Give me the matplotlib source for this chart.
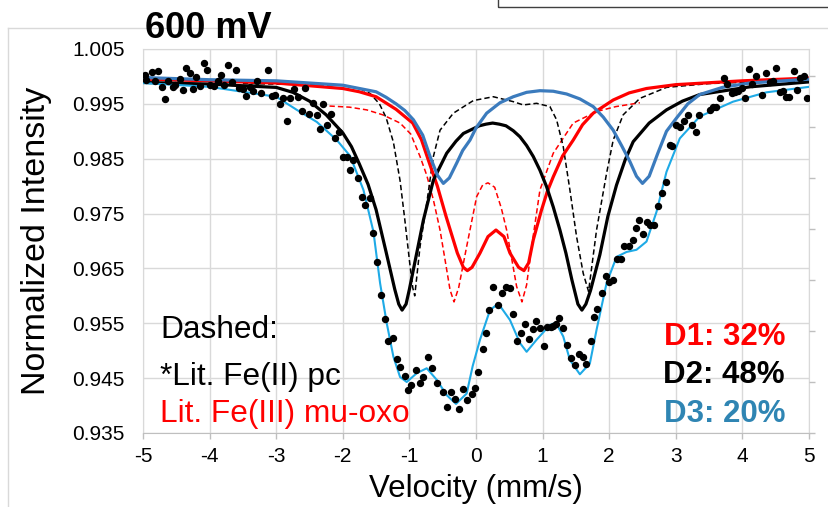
import matplotlib
matplotlib.use('Agg')
import matplotlib.pyplot as plt
from matplotlib.lines import Line2D
from matplotlib.patches import Rectangle

plt.rcParams['font.family'] = ['Liberation Sans', 'DejaVu Sans']

# measured spectrum (velocity mm/s, normalized intensity)
dots_x = [-4.97, -4.95, -4.87, -4.82, -4.77, -4.72, -4.67, -4.62, -4.55, -4.52, -4.45, -4.40, -4.35, -4.30,
          -4.25, -4.20, -4.15, -4.09, -4.04, -3.99, -3.94, -3.88, -3.83, -3.78, -3.72, -3.67, -3.61, -3.56,
          -3.50, -3.45, -3.39, -3.35, -3.29, -3.23, -3.12, -3.07, -3.02, -2.95, -2.90, -2.84, -2.80, -2.73,
          -2.68, -2.62, -2.57, -2.50, -2.44, -2.39, -2.34, -2.29, -2.23, -2.17, -2.12, -2.05,
          -1.99, -1.94, -1.89, -1.84, -1.77, -1.71, -1.66, -1.59, -1.55, -1.48, -1.42, -1.37, -1.32, -1.25,
          -1.19, -1.14, -1.07, -1.02, -0.97, -0.90, -0.84, -0.79, -0.725, -0.665, -0.58, -0.50, -0.43, -0.38,
          -0.32, -0.255, -0.20, -0.14, -0.065, -0.015, 0.035,
          0.10, 0.15, 0.20, 0.26, 0.325, 0.385, 0.45, 0.51, 0.55, 0.61, 0.67, 0.74, 0.80, 0.85, 0.90, 0.96,
          1.02, 1.07, 1.12, 1.16, 1.20, 1.25, 1.31, 1.36, 1.42, 1.49, 1.54, 1.60, 1.65, 1.72, 1.77, 1.82,
          1.89, 1.95, 2.00, 2.06, 2.11, 2.17, 2.22, 2.29, 2.35,
          2.40, 2.45, 2.51, 2.57, 2.62, 2.68, 2.74, 2.79, 2.85, 2.91, 2.95, 3.01, 3.06, 3.12, 3.18, 3.24,
          3.30, 3.35, 3.51, 3.56, 3.61, 3.67, 3.72, 3.77, 3.84, 3.89, 3.94, 3.99, 4.04, 4.10, 4.15, 4.20,
          4.30, 4.36, 4.41, 4.46, 4.51, 4.57, 4.61, 4.66, 4.70, 4.77, 4.82, 4.87, 4.92, 4.97]
dots_y = [1.0003, 0.9994, 1.0008, 0.9992, 1.0010, 0.9981, 0.9959, 0.9991, 0.9980, 0.9984, 0.9995, 0.9975, 1.0016, 1.0006,
          0.9977, 0.9999, 0.9983, 1.0024, 1.0012, 0.9984, 0.9983, 0.9992, 1.0003, 0.9984, 1.0021, 0.9989, 1.0012, 0.9978,
          0.9977, 0.9965, 0.9981, 0.9974, 0.9992, 0.9970, 1.0012, 0.9965, 0.9966, 0.9950, 0.9960, 0.9918, 0.9961, 0.9977,
          0.9963, 0.9937, 0.9978, 0.9931, 0.9951, 0.9930, 0.9905, 0.9949, 0.9912, 0.9931, 0.9887, 0.9898,
          0.9854, 0.9854, 0.9829, 0.9847, 0.9814, 0.9780, 0.9766, 0.9778, 0.9714, 0.9662, 0.9602, 0.9557, 0.9518, 0.9523,
          0.9484, 0.9471, 0.9453, 0.9428, 0.9438, 0.9464, 0.9442, 0.9452, 0.9488, 0.9468, 0.9442, 0.9425, 0.9397, 0.9424,
          0.9412, 0.9393, 0.9430, 0.9410, 0.9422, 0.9432, 0.9462,
          0.9503, 0.9533, 0.9574, 0.9617, 0.9583, 0.9605, 0.9616, 0.9614, 0.9567, 0.9517, 0.9533, 0.9549, 0.9521, 0.9540, 0.9555, 0.9542,
          0.9509, 0.9544, 0.9544, 0.9545, 0.9549, 0.9559, 0.9541, 0.9511, 0.9486, 0.9474, 0.9494, 0.9489, 0.9476, 0.9518, 0.9562, 0.9576,
          0.9605, 0.9637, 0.9625, 0.9628, 0.9667, 0.9667, 0.9691, 0.9691, 0.9702,
          0.9723, 0.9738, 0.9712, 0.9735, 0.9729, 0.9730, 0.9763, 0.9787, 0.9808, 0.9875, 0.9874, 0.9912, 0.9908, 0.9919, 0.9930, 0.9912,
          0.9899, 0.9930, 0.9939, 0.9945, 0.9945, 0.9960, 0.9998, 0.9987, 0.9969, 0.9971, 0.9974, 0.9978, 0.9960, 1.0014, 0.9986, 1.0001,
          0.9967, 1.0006, 0.9989, 0.9991, 1.0015, 0.9972, 0.9974, 0.9963, 0.9963, 1.0010, 0.9975, 0.9997, 1.0000, 0.9960]

# total fit
fit_x = [-5, -4, -3, -2.69, -2.39, -2.09, -1.89, -1.69, -1.54, -1.44, -1.34, -1.24, -1.14, -1.04, -0.89, -0.74,
         -0.59, -0.44, -0.30, -0.14, -0.05, 0.06, 0.21, 0.335, 0.51, 0.66, 0.76, 0.91, 1.11, 1.20, 1.31, 1.41,
         1.56, 1.71, 1.81, 1.96, 2.11, 2.26, 2.41, 2.56, 2.71, 2.86, 3.06, 3.36, 3.86, 4.36, 5]
fit_y = [0.9988, 0.9981, 0.9963, 0.9939, 0.9917, 0.9884, 0.9855, 0.9793, 0.9717, 0.9623, 0.9550, 0.9489, 0.9452, 0.9443, 0.9459, 0.9468,
         0.9447, 0.9419, 0.9403, 0.9422, 0.9472, 0.9520, 0.9574, 0.9586, 0.9556, 0.9514, 0.9498, 0.9520, 0.9547, 0.9551, 0.9526, 0.9483,
         0.9457, 0.9477, 0.9538, 0.9623, 0.9671, 0.9680, 0.9684, 0.9699, 0.9753, 0.9826, 0.9887, 0.9927, 0.9954, 0.9971, 0.9981]

# D1 doublet (red)
d1_x = [-5, -4, -3, -2, -1.75, -1.5, -1.2, -0.95, -0.82, -0.7, -0.58, -0.45, -0.28, -0.19, -0.13, -0.06, 0.06, 0.18,
        0.3, 0.42, 0.51, 0.64, 0.72, 0.79, 0.86, 0.98, 1.07, 1.16, 1.3, 1.46, 1.6, 1.76, 2.06, 2.3, 2.56, 3, 4, 5]
d1_y = [0.9995, 0.9992, 0.9988, 0.9978, 0.9972, 0.9963, 0.9940, 0.9915, 0.9885, 0.9842, 0.9800, 0.9745, 0.9678, 0.9652, 0.9646, 0.9652, 0.9678, 0.9708,
        0.9720, 0.9708, 0.9678, 0.9652, 0.9646, 0.9660, 0.9702, 0.9755, 0.9790, 0.9817, 0.9855, 0.9884, 0.9912, 0.9933, 0.9957, 0.9970, 0.9978, 0.9985, 0.9992, 0.9997]

# D2 doublet (black)
d2_x = [-5, -4, -3, -2.75, -2.5, -2.25, -2, -1.87, -1.75, -1.62, -1.5, -1.35, -1.22, -1.16, -1.11, -1.05, -1.0, -0.9,
        -0.79, -0.64, -0.44, -0.3, -0.19, 0.05, 0.15, 0.25, 0.35, 0.45, 0.56, 0.66, 0.76, 0.86, 0.96, 1.06, 1.16, 1.26,
        1.35, 1.44, 1.53, 1.59, 1.65, 1.72, 1.86, 1.98, 2.11, 2.24, 2.36, 2.6, 2.86, 3.1, 3.36, 4.11, 5]
d2_y = [0.9989, 0.9986, 0.9980, 0.9971, 0.9955, 0.9930, 0.9897, 0.9872, 0.9840, 0.9803, 0.9757, 0.9680, 0.9612, 0.9585, 0.9574, 0.9585, 0.9612, 0.9672,
        0.9738, 0.9811, 0.9860, 0.9882, 0.9896, 0.9910, 0.9913, 0.9915, 0.9913, 0.9910, 0.9901, 0.9890, 0.9874, 0.9854, 0.9829, 0.9799, 0.9762, 0.9720,
        0.9678, 0.9629, 0.9585, 0.9574, 0.9585, 0.9610, 0.9675, 0.9745, 0.9802, 0.9848, 0.9881, 0.9915, 0.9939, 0.9955, 0.9967, 0.9981, 0.9990]

# D3 doublet (blue)
d3_x = [-5, -4, -3, -2, -1.5, -1.35, -1.2, -1.07, -0.94, -0.8, -0.69, -0.58, -0.49, -0.4, -0.29, -0.2, -0.09, 0.0,
        0.16, 0.36, 0.56, 0.76, 0.96, 1.16, 1.36, 1.56, 1.76, 1.91, 2.06, 2.19, 2.31, 2.41, 2.50, 2.60, 2.73, 2.86,
        3.01, 3.18, 3.36, 3.7, 4.11, 5]
d3_y = [0.9998, 0.9994, 0.9992, 0.9984, 0.9972, 0.9962, 0.9950, 0.9938, 0.9921, 0.9893, 0.9854, 0.9820, 0.9805, 0.9815, 0.9842, 0.9865, 0.9884, 0.9906,
        0.9933, 0.9952, 0.9963, 0.9971, 0.9974, 0.9973, 0.9968, 0.9959, 0.9945, 0.9926, 0.9902, 0.9873, 0.9845, 0.9818, 0.9805, 0.9818, 0.9860, 0.9900,
        0.9924, 0.9950, 0.9967, 0.9980, 0.9988, 0.9995]

# literature Fe(II) pc (black dashed)
lit2_x = [-3.5, -3, -2, -1.75, -1.59, -1.45, -1.35, -1.24, -1.14, -1.07, -1.0, -0.95, -0.92, -0.84, -0.74, -0.64, -0.54,
          -0.34, -0.04, 0.26, 0.56, 0.71, 0.91, 1.11, 1.21, 1.31, 1.41, 1.51, 1.61, 1.69, 1.81, 1.96, 2.06, 2.21, 2.46,
          2.86, 3.5, 4.2, 5]
lit2_y = [0.9987, 0.9986, 0.9984, 0.9978, 0.9969, 0.9950, 0.9925, 0.9880, 0.9810, 0.9740, 0.9665, 0.9615, 0.9600, 0.9690, 0.9769, 0.9854, 0.9902,
          0.9933, 0.9956, 0.9963, 0.9954, 0.9948, 0.9951, 0.9945, 0.9921, 0.9872, 0.9793, 0.9708, 0.9641, 0.9608, 0.9720, 0.9823, 0.9884, 0.9930, 0.9960,
          0.9980, 0.9987, 0.9990, 0.9992]

# literature Fe(III) mu-oxo (red dashed)
lit3_x = [-2.2, -1.9, -1.64, -1.4, -1.14, -0.98, -0.84, -0.74, -0.64, -0.54, -0.45, -0.39, -0.33, -0.26, -0.14, 0.01,
          0.1, 0.18, 0.28, 0.38, 0.46, 0.54, 0.61, 0.69, 0.76, 0.83, 0.96, 1.16, 1.46, 1.81, 2.1, 2.46]
lit3_y = [0.9946, 0.9944, 0.9939, 0.9930, 0.9915, 0.9895, 0.9854, 0.9820, 0.9775, 0.9720, 0.9655, 0.9611, 0.9589, 0.9615, 0.9690, 0.9781,
          0.9802, 0.9806, 0.9798, 0.9760, 0.9720, 0.9665, 0.9617, 0.9589, 0.9620, 0.9685, 0.9793, 0.9860, 0.9915, 0.9936, 0.9945, 0.9952]

x_ticks = [-5, -4, -3, -2, -1, 0, 1, 2, 3, 4, 5]
y_ticks = [0.935, 0.945, 0.955, 0.965, 0.975, 0.985, 0.995, 1.005]
y_labels = ['0.935', '0.945', '0.955', '0.965', '0.975', '0.985', '0.995', '1.005']
right_ticks = [0, 1, 2, 3, 4, 5, 6, 7]

RED = '#FF0000'
BLUE = '#3B7BBD'
CYAN = '#1EAAE6'
D3_TEXT = '#2F85B3'
GRID = '#D9D9D9'

fig = plt.figure(figsize=(8.29, 5.07), dpi=100)
ax = fig.add_axes([143 / 829, 1 - 433 / 507, 666 / 829, 384 / 507])

ax.plot(lit3_x, lit3_y, color=RED, lw=1.1, ls=(0, (3.5, 2)), zorder=2)
ax.plot(lit2_x, lit2_y, color='black', lw=1.1, ls=(0, (3.5, 2)), zorder=2)
ax.plot(d1_x, d1_y, color=RED, lw=2.3, zorder=3)
ax.plot(d2_x, d2_y, color='black', lw=2.3, zorder=3)
ax.plot(d3_x, d3_y, color=BLUE, lw=2.3, zorder=3)
ax.plot(fit_x, fit_y, color=CYAN, lw=1.5, zorder=4)
ax.plot(dots_x, dots_y, 'o', color='black', ms=4.3, zorder=5)

ax.set_xlim(-5, 5)
ax.set_ylim(0.935, 1.005)
ax.set_xticks(x_ticks)
ax.set_xticklabels([str(t) for t in x_ticks])
ax.set_yticks(y_ticks)
ax.set_yticklabels(y_labels)
ax.grid(True, color=GRID, lw=1.0)
ax.set_axisbelow(True)
ax.tick_params(axis='x', labelsize=15, length=4, width=1, color='#BFBFBF', pad=6)
ax.tick_params(axis='y', labelsize=15, length=0, pad=13)
for s in ['left', 'top', 'right']:
    ax.spines[s].set_color(GRID)
ax.spines['bottom'].set_color('#BFBFBF')

ax2 = ax.twinx()
ax2.set_ylim(0, 7.53)
ax2.set_yticks(right_ticks)
ax2.set_yticklabels([])
ax2.tick_params(axis='y', length=4, width=1, color='#BFBFBF')
for s in ['left', 'top', 'right', 'bottom']:
    ax2.spines[s].set_visible(False)

ax.set_xlabel('Velocity (mm/s)', fontsize=22.5)
ax.xaxis.set_label_coords(0.5, -0.107)
ax.set_ylabel('Normalized Intensity', fontsize=24.5)
ax.yaxis.set_label_coords(-0.136, 0.5)

# notes inside the plot
ax.text(0.0255, 0.247, 'Dashed:', transform=ax.transAxes, fontsize=22.8, color='black', va='baseline', zorder=6)
ax.text(0.0255, 0.125, '*Lit. Fe(II) pc', transform=ax.transAxes, fontsize=22.8, color='black', va='baseline', zorder=6)
ax.text(0.0255, 0.029, 'Lit. Fe(III) mu-oxo', transform=ax.transAxes, fontsize=22.8, color=RED, va='baseline', zorder=6)
ax.text(0.964, 0.229, 'D1: 32%', transform=ax.transAxes, fontsize=22.5, fontweight='bold', color=RED, ha='right', va='baseline', zorder=6)
ax.text(0.964, 0.129, 'D2: 48%', transform=ax.transAxes, fontsize=22.5, fontweight='bold', color='black', ha='right', va='baseline', zorder=6)
ax.text(0.964, 0.029, 'D3: 20%', transform=ax.transAxes, fontsize=22.5, fontweight='bold', color=D3_TEXT, ha='right', va='baseline', zorder=6)

# chart frame and cut-off box at the top right
fig.add_artist(Line2D([8 / 829, 1.0], [1 - 28 / 507, 1 - 28 / 507], color=GRID, lw=1.0, transform=fig.transFigure))
fig.add_artist(Line2D([8 / 829, 8 / 829], [1 - 28 / 507, 0.0], color=GRID, lw=1.0, transform=fig.transFigure))
fig.add_artist(Rectangle((498 / 829, 1 - 7 / 507), 0.5, 0.1, fill=False, edgecolor='#404040', lw=1.0,
                         transform=fig.transFigure))

fig.text(145 / 829, 1 - 38 / 507, '600 mV', fontsize=26, fontweight='bold', va='baseline')

fig.savefig('out.png', dpi=100)
